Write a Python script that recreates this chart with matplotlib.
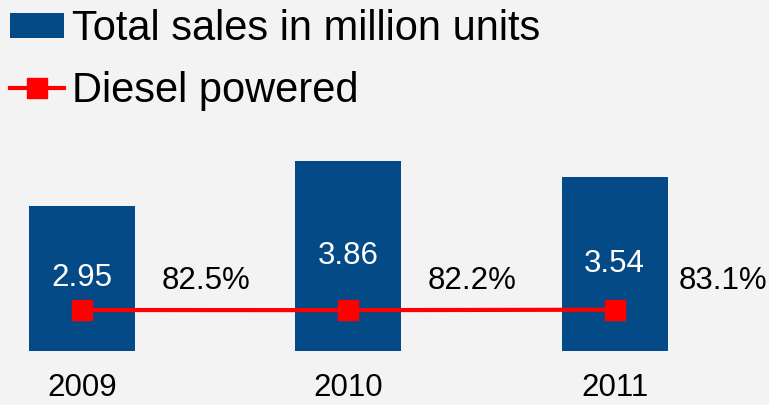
import matplotlib
matplotlib.use("Agg")
import matplotlib.pyplot as plt
from matplotlib.patches import Patch
from matplotlib.lines import Line2D

years = ["2009", "2010", "2011"]
total_sales = [2.95, 3.86, 3.54]
diesel_share = [82.5, 82.2, 83.1]
share_labels = ["82.5%", "82.2%", "83.1%"]

plt.rcParams['font.family'] = ['Liberation Sans', 'DejaVu Sans']

BG = "#f3f3f3"
BAR = "#044a87"
RED = "#ff0000"
FS = 22.5

W, H = 769, 405
fig = plt.figure(figsize=(W / 100, H / 100), dpi=100)
fig.patch.set_facecolor(BG)

bottom_px = 350.7
top_px = 130
ax = fig.add_axes([0, (H - bottom_px) / H, 1, (bottom_px - top_px) / H])
ax.set_facecolor("none")
px_per_unit = 49.2
ax.set_ylim(0, (bottom_px - top_px) / px_per_unit)
spacing = 266.3
x0 = 82
ax.set_xlim(-x0 / spacing, (W - x0) / spacing)
x = list(range(len(years)))
bars = ax.bar(x, total_sales, width=106 / spacing, color=BAR, zorder=2)
for xi, v in zip(x, total_sales):
    ax.text(xi, v / 2, f"{v:.2f}", color="white", ha="center", va="center",
            fontsize=FS, zorder=5)
for s in ax.spines.values():
    s.set_visible(False)
ax.set_xticks([])
ax.set_yticks([])

# year labels
for xi, yr in zip(x, years):
    ax.annotate(yr, (xi, 0), xytext=(0, -45.5 * 0.72), textcoords="offset points",
                ha="center", va="baseline", fontsize=FS, annotation_clip=False)

ax2 = ax.twinx()
ax2.set_ylim(0, 82.5 * (bottom_px - top_px) / 40.7)
ax2.set_axis_off()
ax2.plot(x, diesel_share, color=RED, lw=3, marker="s", ms=14.5, zorder=4)
offsets_px = [80, 79, 64]
for xi, v, lab, off in zip(x, diesel_share, share_labels, offsets_px):
    ax2.annotate(lab, (xi, v), xytext=(off * 0.72, 29 * 0.72), textcoords="offset points",
                 ha="left", va="center", fontsize=FS, annotation_clip=False)

handles = [Patch(facecolor=BAR, edgecolor="none"),
           Line2D([], [], color=RED, lw=3, marker="s", ms=15)]
fig.legend(handles, ["Total sales in million units", "Diesel powered"],
           loc="upper left", bbox_to_anchor=(10 / W, 1 - 9 / H), frameon=False,
           fontsize=30, handlelength=1.3, handletextpad=0.2, labelspacing=0.52,
           handleheight=0.53, borderpad=0, borderaxespad=0)

fig.savefig("out.png", dpi=100, facecolor=BG)
